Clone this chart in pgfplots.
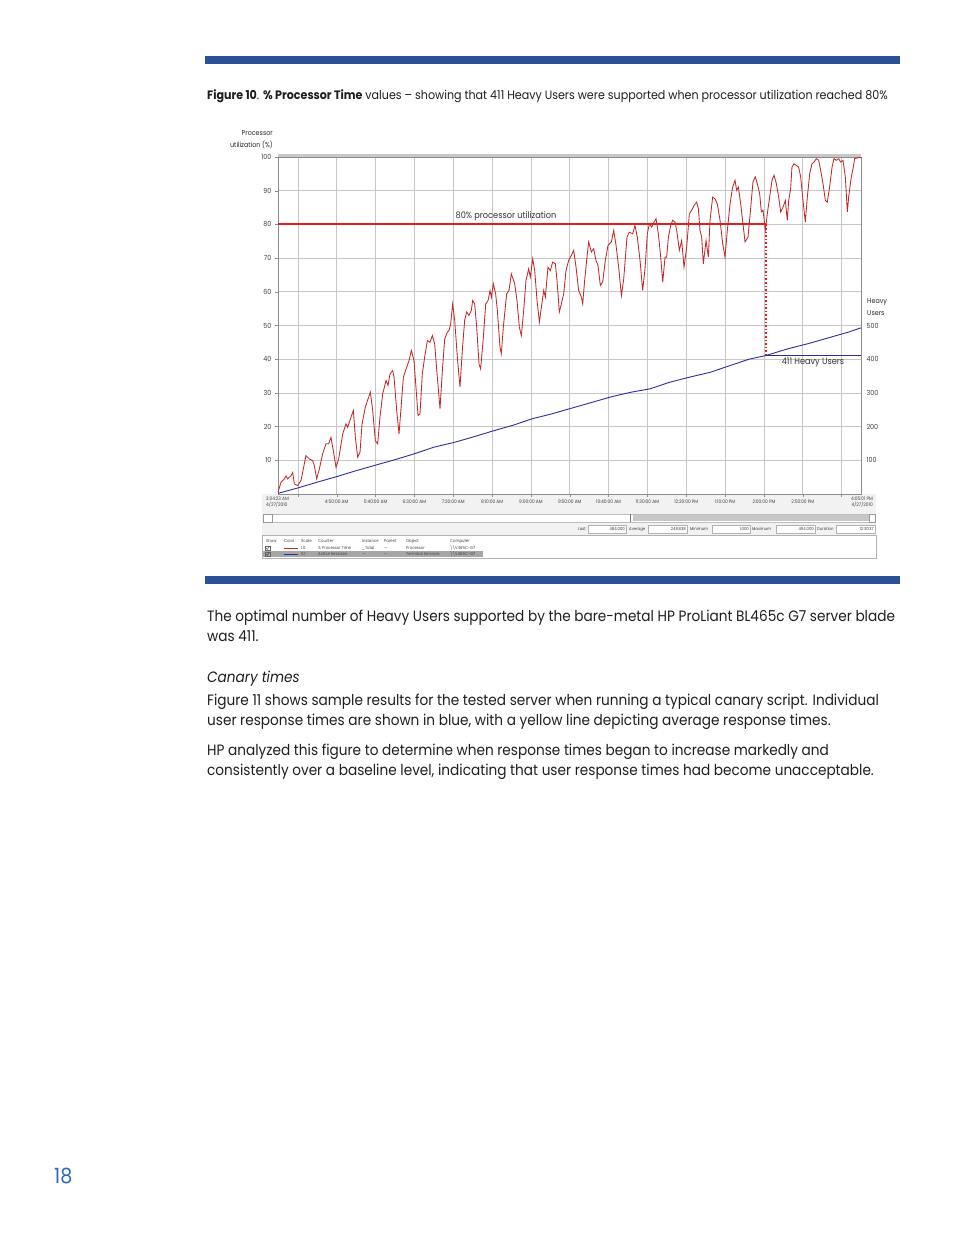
\documentclass[border=0pt]{standalone}
\usepackage{fontspec}
\setmainfont{Poppins}[FakeStretch=0.91]
\usepackage{pgfplots}
\pgfplotsset{compat=1.18}
\definecolor{hpblue}{RGB}{42,80,150}
\definecolor{pgnum}{RGB}{45,105,180}
\definecolor{cpured}{RGB}{195,40,40}
\definecolor{sessblue}{RGB}{45,45,160}
\definecolor{thresh}{RGB}{228,30,30}
\definecolor{txt}{RGB}{30,30,30}
\definecolor{panel}{RGB}{242,242,242}

\begin{document}
\begin{tikzpicture}
\begin{scope}[x=1pt,y=1pt]
\useasboundingbox (0,0) rectangle (954,1235);

% blue rules and caption
\fill[hpblue] (205,1171) rectangle (900,1179);
\fill[hpblue] (205,651) rectangle (900,659);
\node[anchor=base west,inner sep=0,text=txt,font=\fontsize{12.2}{14}\selectfont] at (207,1135)
  {\textbf{Figure 10}. \textbf{\% Processor Time} values – showing that 411 Heavy Users were supported when processor utilization reached 80\%};

% chart panel below the plot
\fill[panel] (262,677) rectangle (876,741);
\draw[black!25,fill=white] (263,713) rectangle (875,721);
\fill[black!22] (633,714) rectangle (869,720);
\draw[black!40] (263,713) rectangle (272,721);
\draw[black!40] (869,713) rectangle (875,721);
\draw[black!55] (630,713) -- (630,721);
\begin{scope}[font=\fontsize{4.2}{5}\selectfont,text=black!75]
  \node[anchor=base east,inner sep=0] at (586,704) {Last};
  \draw[black!30,fill=white] (588,702) rectangle (626,710);
  \node[anchor=base east,inner sep=0] at (625,704) {484.000};
  \node[anchor=base west,inner sep=0] at (629,704) {Average};
  \draw[black!30,fill=white] (648,702) rectangle (687,710);
  \node[anchor=base east,inner sep=0] at (686,704) {248.838};
  \node[anchor=base west,inner sep=0] at (690,704) {Minimum};
  \draw[black!30,fill=white] (712,702) rectangle (750,710);
  \node[anchor=base east,inner sep=0] at (749,704) {1.000};
  \node[anchor=base west,inner sep=0] at (752,704) {Maximum};
  \draw[black!30,fill=white] (776,702) rectangle (815,710);
  \node[anchor=base east,inner sep=0] at (814,704) {494.000};
  \node[anchor=base west,inner sep=0] at (817,704) {Duration};
  \draw[black!30,fill=white] (836,702) rectangle (875,710);
  \node[anchor=base east,inner sep=0] at (874,704) {12:30:37};
  % counter table
  \draw[black!30,fill=white] (262,677) rectangle (876,700);
  \fill[black!35] (263,678) rectangle (483,684);
  \foreach \xx/\tt in {266/Show,284/Color,301/Scale,318/Counter,362/Instance,384/Parent,406/Object,450/Computer}
    \node[anchor=base west,inner sep=0] at (\xx,692) {\tt};
  \draw[black!60] (265,684.5) rectangle (270,689);
  \draw[black!60] (265,678.5) rectangle (270,683);
  \draw[black!80,line width=0.4pt] (266,687) -- (267.3,685.6) -- (269.2,688.3);
  \draw[black!80,line width=0.4pt] (266,681) -- (267.3,679.6) -- (269.2,682.3);
  \draw[cpured,line width=0.8pt] (284,686.5) -- (298,686.5);
  \draw[sessblue,line width=0.8pt] (284,680.5) -- (298,680.5);
  \foreach \xx/\tt in {301/1.0,318/\% Processor Time,362/\_Total,384/---,406/Processor,450/\textbackslash\textbackslash V465C-G7}
    \node[anchor=base west,inner sep=0] at (\xx,685) {\tt};
  \foreach \xx/\tt in {301/0.1,318/Active Sessions,362/---,384/---,406/Terminal Services,450/\textbackslash\textbackslash V465C-G7}
    \node[anchor=base west,inner sep=0] at (\xx,679) {\tt};
\end{scope}

% top hatched band of the plot frame
\fill[black!22] (278,1078) rectangle (861,1081);
\end{scope}

\begin{axis}[
  at={(278pt,741pt)}, anchor=south west,
  scale only axis, width=583pt, height=337pt,
  xmin=0, xmax=750.6, ymin=0, ymax=100,
  axis line style={draw=black!45},
  grid=major, major grid style={draw=black!22,line width=0.7pt},
  xtick={25.6,75.6,125.6,175.6,225.6,275.6,325.6,375.6,425.6,475.6,525.6,575.6,625.6,675.6,725.6},
  xticklabels={,4:50:00 AM,5:40:00 AM,6:30:00 AM,7:20:00 AM,8:10:00 AM,9:00:00 AM,9:50:00 AM,10:40:00 AM,11:30:00 AM,12:20:00 PM,1:10:00 PM,2:00:00 PM,2:50:00 PM,},
  ytick={10,20,30,40,50,60,70,80,90,100},
  tick align=outside, major tick length=3pt,
  tick style={draw=black!45},
  xtick pos=bottom, ytick pos=left,
  /pgf/number format/assume math mode=true,
  x tick label style={font=\fontsize{4.8}{5}\selectfont,text=black!75,yshift=1pt},
  y tick label style={font=\fontsize{7}{8}\selectfont,text=black!75},
  clip=false,
]
\addplot[thresh,line width=2pt] coordinates {(0,80) (628.3,80)};
\addplot[cpured,line width=0.85pt] coordinates {
(0,0.5)(3.9,3.5)(8.2,4.5)(10.3,5.4)(12.4,4.5)(16.7,5.4)(18.9,6.4)(21.0,3.0)(25.3,2.5)(29.6,4.0)
(36.0,11.4)(40.3,10.4)(44.6,9.9)(46.8,8.4)(49.8,4.5)(53.2,7.4)(57.5,11.9)(61.8,14.9)(65.2,14.9)(68.2,16.8)
(71.2,12.9)(74.7,7.9)(78.1,10.4)(83.3,17.8)(87.5,20.8)(89.7,19.8)(94.0,22.8)(97.0,24.8)(99.6,16.8)(102.6,10.9)
(105.6,12.4)(108.2,20.8)(112.4,25.7)(115.9,28.2)(118.9,30.2)(121.9,24.8)(125.3,15.8)(128.3,14.9)(131.3,22.8)(134.8,29.7)
(139.1,33.7)(141.6,32.2)(144.2,35.6)(147.6,36.6)(149.4,34.7)(152.8,24.8)(155.8,17.8)(158.8,26.7)(161.4,34.7)(165.7,37.6)
(168.7,39.6)(171.7,42.6)(175.1,39.6)(177.3,32.7)(180.3,23.3)(182.8,23.8)(185.8,35.6)(188.8,40.6)(192.3,45.5)(195.7,45.0)
(198.7,47.0)(201.7,44.6)(205.1,34.7)(208.6,25.3)(211.6,36.6)(214.6,46.0)(218.0,48.0)(220.2,48.5)(222.3,50.5)(224.9,56.4)
(227.5,51.5)(230.9,40.6)(234.3,31.7)(237.3,42.6)(240.3,51.5)(242.9,54.0)(245.9,53.0)(248.9,54.5)(250.6,57.4)(253.2,56.4)
(255.8,49.5)(258.8,38.6)(260.9,37.1)(264.4,46.5)(267.4,56.4)(270.4,57.4)(273.0,60.4)(274.7,58.4)(277.2,62.4)(280.2,59.4)
(282.4,54.5)(285.8,43.6)(287.5,41.6)(290.1,49.5)(294.4,59.4)(297.4,60.4)(300.4,65.3)(304.7,62.4)(307.7,57.4)(310.7,49.5)
(313.3,47.0)(316.3,54.5)(319.3,63.4)(322.7,66.8)(324.9,64.4)(327.9,69.8)(330.5,66.3)(333.5,57.4)(336.5,51.0)(339.1,55.4)
(342.1,60.4)(344.2,58.4)(347.6,67.3)(350.6,66.3)(353.6,68.8)(357.1,68.3)(359.2,63.4)(362.2,54.0)(364.8,56.4)(367.8,59.4)
(370.8,66.3)(374.2,69.3)(377.7,70.8)(380.7,72.3)(383.7,67.3)(387.1,60.4)(390.6,58.4)(392.3,56.4)(394.8,63.4)(397.8,70.3)
(400.0,74.8)(403.4,71.8)(406.4,72.8)(409.4,69.3)(412.0,67.8)(415.0,61.9)(418.0,62.9)(421.4,69.3)(424.9,73.8)(429.2,74.8)
(432.2,78.2)(435.2,73.8)(438.6,67.3)(442.1,58.9)(445.1,63.8)(449.3,76.2)(452.3,77.7)(456.6,77.2)(459.6,79.7)(462.6,76.2)
(466.1,69.3)(469.5,60.4)(472.5,66.8)(475.5,77.2)(478.1,80.2)(481.1,79.2)(484.1,80.7)(486.7,81.7)(489.7,77.2)(492.7,70.3)
(495.3,62.9)(498.3,70.3)(500.4,70.3)(502.6,76.2)(505.6,79.7)(508.1,81.2)(511.1,80.7)(513.3,78.2)(516.7,72.3)(519.7,75.2)
(522.7,67.3)(526.2,73.3)(529.6,83.2)(532.6,84.2)(535.6,85.6)(539.0,86.6)(541.2,84.7)(543.3,78.2)(545.5,76.2)(547.6,68.3)
(551.1,75.2)(554.1,70.3)(556.2,81.2)(559.6,88.1)(562.6,87.6)(565.6,86.1)(569.1,81.2)(572.5,74.3)(575.5,70.3)(578.5,78.2)
(582.0,86.1)(585.4,91.1)(588.4,93.1)(590.5,90.1)(592.7,91.1)(595.7,86.1)(599.1,79.2)(601.3,74.8)(605.1,76.2)(608.5,84.7)
(611.5,92.6)(614.5,94.1)(617.1,92.1)(620.1,89.1)(622.3,83.7)(624.4,84.2)(625.7,81.7)(627.4,78.2)(630.0,83.2)(633.0,88.1)
(636.0,93.1)(638.6,94.6)(641.6,92.1)(644.6,88.1)(647.2,83.7)(650.2,85.1)(653.2,87.1)(655.7,81.2)(657.5,87.1)(660.0,90.6)
(661.7,97.0)(664.3,98.0)(667.3,97.5)(670.3,97.0)(672.9,94.1)(675.9,87.1)(678.9,80.7)(681.5,88.1)(684.5,95.0)(687.5,98.0)
(690.1,98.5)(693.1,99.5)(696.1,99.0)(698.7,96.0)(701.7,92.1)(704.7,87.1)(707.2,86.6)(710.2,91.1)(713.3,97.0)(715.8,99.5)
(718.8,99.0)(721.8,99.5)(724.4,98.5)(727.4,99.0)(730.4,94.1)(733.0,83.7)(734.7,88.1)(738.1,94.1)(740.3,96.5)(742.4,99.5)
(746.7,99.8)(750.6,99.8)};
\addplot[thresh,line width=1.6pt,dotted] coordinates {(628.3,80) (628.3,41.1)};
\end{axis}

\begin{axis}[
  at={(278pt,741pt)}, anchor=south west,
  scale only axis, width=583pt, height=337pt,
  xmin=0, xmax=750.6, ymin=0, ymax=1000,
  axis y line*=right, axis x line=none,
  axis line style={draw=black!45},
  ytick={100,200,300,400,500},
  major tick length=0pt,
  /pgf/number format/assume math mode=true,
  y tick label style={font=\fontsize{7}{8}\selectfont,text=black!75,xshift=2pt},
  clip=false,
]
\addplot[sessblue,line width=0.9pt] coordinates {
(0,2)(25.7,18)(48.9,34)(74.7,51)(100.4,69)(126.2,86)(149.4,101)(175.1,119)(200.9,139)(226.6,153)
(252.4,170)(278.1,188)(302.6,204)(327.0,223)(352.8,238)(378.5,255)(404.3,272)(430.0,289)(454.5,302)(479.0,312)
(504.7,332)(530.5,347)(556.2,361)(581.9,381)(606.4,400)(628.3,411)(656.6,431)(682.4,446)(708.1,463)(733.9,480)
(750.6,493)};
\addplot[sessblue,line width=1.4pt] coordinates {(628.3,411) (750.6,411)};
\end{axis}

\begin{scope}[x=1pt,y=1pt]
% chart labels
\begin{scope}[font=\fontsize{7}{8}\selectfont,text=black!85]
  \node[anchor=base east,inner sep=0] at (273,1099) {Processor};
  \node[anchor=base east,inner sep=0] at (273,1087) {utilization (\%)};
  \node[anchor=base west,inner sep=0] at (867,931) {Heavy};
  \node[anchor=base west,inner sep=0] at (867,919) {Users};
\end{scope}
\begin{scope}[font=\fontsize{4.8}{5}\selectfont,text=black!75]
  \node[anchor=base west,inner sep=0] at (266,734) {3:34:23 AM};
  \node[anchor=base west,inner sep=0] at (266,728) {4/27/2010};
  \node[anchor=base east,inner sep=0] at (873,734) {4:05:01 PM};
  \node[anchor=base east,inner sep=0] at (873,728) {4/27/2010};
\end{scope}
\node[anchor=base,inner sep=0,font=\fontsize{9}{10}\selectfont,text=black!80] at (506,1016) {80\% processor utilization};
\node[anchor=base,inner sep=0,font=\fontsize{9}{10}\selectfont,text=black!80] at (813,870) {411 Heavy Users};

% body text
\begin{scope}[font=\fontsize{15}{20}\selectfont,text=txt]
  \node[anchor=base west,inner sep=0] at (207,613) {The optimal number of Heavy Users supported by the bare-metal HP ProLiant BL465c G7 server blade};
  \node[anchor=base west,inner sep=0] at (207,593) {was 411.};
  \node[anchor=base west,inner sep=0] at (207,552) {\itshape Canary times};
  \node[anchor=base west,inner sep=0] at (207,529) {Figure 11 shows sample results for the tested server when running a typical canary script. Individual};
  \node[anchor=base west,inner sep=0] at (207,509) {user response times are shown in blue, with a yellow line depicting average response times.};
  \node[anchor=base west,inner sep=0] at (207,479) {HP analyzed this figure to determine when response times began to increase markedly and};
  \node[anchor=base west,inner sep=0] at (207,459) {consistently over a baseline level, indicating that user response times had become unacceptable.};
\end{scope}
\node[anchor=base west,inner sep=0,font=\fontsize{21}{23}\selectfont,text=pgnum] at (54,51) {18};
\end{scope}
\end{tikzpicture}
\end{document}
